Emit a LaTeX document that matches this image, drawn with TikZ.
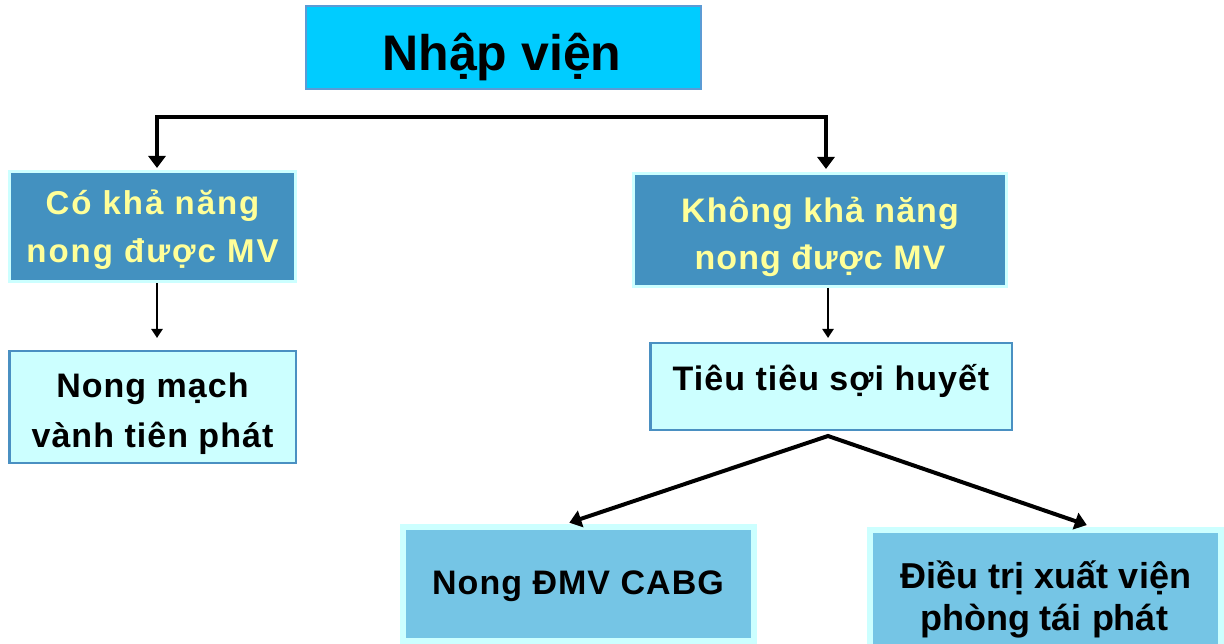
\documentclass[tikz,border=0pt]{standalone}
\usepackage{fontspec}
\setmainfont{Liberation Sans}
\newfontfamily\lsA{Liberation Sans}[LetterSpace=6]
\newfontfamily\lsB{Liberation Sans}[LetterSpace=3]
\usetikzlibrary{arrows.meta}
\definecolor{topfill}{HTML}{00CCFF}
\definecolor{topedge}{HTML}{5B9BD5}
\definecolor{steel}{HTML}{4391C0}
\definecolor{lightc}{HTML}{CCFFFF}
\definecolor{edgeblue}{HTML}{4A90C2}
\definecolor{skyb}{HTML}{75C5E5}
\definecolor{yellowt}{HTML}{FFFF99}
\begin{document}
\begin{tikzpicture}[x=1pt,y=-1pt,
  box/.style={draw, rectangle, inner sep=0pt},
  topbox/.style={box, fill=topfill, draw=topedge, line width=2pt},
  darkbox/.style={box, fill=steel, draw=lightc, line width=3pt},
  lightbox/.style={box, fill=lightc, draw=edgeblue, line width=2.5pt},
  midbox/.style={box, fill=skyb, draw=lightc, line width=6pt},
  txt/.style={anchor=base, inner sep=0pt, text=black},
  toptxt/.style={txt, font=\bfseries\fontsize{50}{60}\selectfont},
  yA/.style={txt, text=yellowt, font=\lsA\bfseries\fontsize{33}{39}\selectfont},
  yB/.style={txt, text=yellowt, font=\lsB\bfseries\fontsize{34}{40}\selectfont},
  bkA/.style={txt, font=\lsB\bfseries\fontsize{34}{40}\selectfont},
  bkC/.style={txt, font=\lsB\bfseries\fontsize{34}{40}\selectfont},
  bkD/.style={txt, font=\bfseries\fontsize{36}{42}\selectfont},
  bigarrows/.style={line width=4pt, line join=miter,
    {Triangle[length=12pt,width=17pt]}-{Triangle[length=12pt,width=17pt]}},
  smallarrow/.style={line width=2.5pt, -{Triangle[length=9pt,width=11pt]}}
]
\useasboundingbox (0,0) rectangle (1224,644);
\clip (0,0) rectangle (1224,644);
\fill[white] (0,0) rectangle (1224,644);

% boxes
\node[topbox, minimum width=395pt, minimum height=83pt] (top) at (503.5,47.5) {};
\node[darkbox, minimum width=286pt, minimum height=110pt] (b1) at (152.5,226.5) {};
\node[lightbox, minimum width=286.5pt, minimum height=111.5pt] (b2) at (152.5,407) {};
\node[darkbox, minimum width=373pt, minimum height=113pt] (b3) at (820,230) {};
\node[lightbox, minimum width=361.5pt, minimum height=86.5pt] (b4) at (831,386.5) {};
\node[midbox, minimum width=351pt, minimum height=114pt] (b5) at (578.5,584) {};
\node[midbox, minimum width=351pt, minimum height=122pt] (b6) at (1045.5,591) {};

% texts
\node[toptxt] (tN) at (502,71) {Nhập viện};
\node[yA] (t1a) at (152.5,215) {Có khả năng};
\node[yA] (t1b) at (152.5,263) {nong được MV};
\node[bkA] (t2a) at (152.5,398) {Nong mạch};
\node[bkA] (t2b) at (152.5,447) {vành tiên phát};
\node[yB] (t3a) at (820,223) {Không khả năng};
\node[yB] (t3b) at (820,270) {nong được MV};
\node[bkA] (t4) at (831,390) {Tiêu tiêu sợi huyết};
\node[bkC] (t5) at (578,594) {Nong ĐMV CABG};
\node[bkD] (t6a) at (1046,588) {Điều trị xuất viện};
\node[bkD] (t6b) at (1044,630) {phòng tái phát};

% connectors
\coordinate (jl) at (157,117);
\coordinate (jr) at (826,117);
\draw[bigarrows, shorten <=2pt, shorten >=3pt]
  (jl |- b1.north) -- (jl) -- (jr) -- (jr |- b3.north);
\draw[smallarrow, shorten >=12pt] ([xshift=4.5pt]b1.south) -- ([xshift=4.5pt]b2.north);
\coordinate (m3) at ([xshift=8pt]b3.south);
\draw[smallarrow, shorten >=4pt] (m3) -- (m3 |- b4.north);
\coordinate (ap) at ([shift={(-3pt,-5pt)}]b4.south);
\draw[bigarrows, shorten <=4pt, shorten >=6pt]
  ([xshift=-13pt]b5.north) -- (ap) -- ([xshift=47pt]b6.north);
\end{tikzpicture}
\end{document}
